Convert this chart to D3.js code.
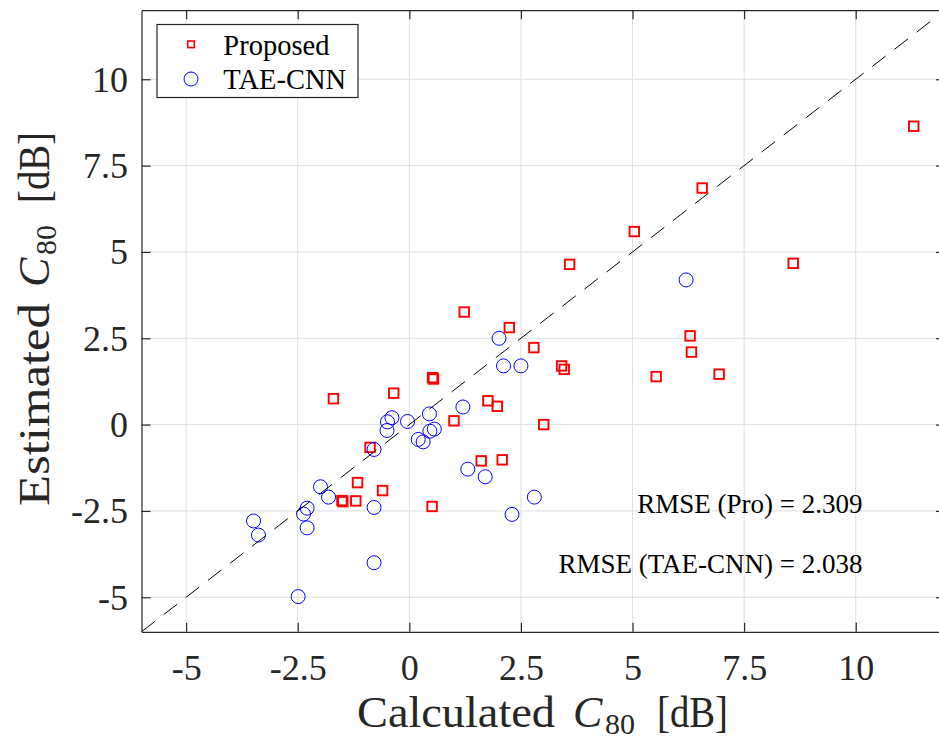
<!DOCTYPE html>
<html>
<head>
<meta charset="utf-8">
<script src="https://cdn.jsdelivr.net/npm/d3@7"></script>
<style>
  html, body { margin: 0; padding: 0; background: #fff; }
  svg { display: block; font-family: "Liberation Serif", "Times New Roman", serif; }
</style>
</head>
<body>
<svg id="chart" width="939" height="740"></svg>
<script>
// ---- data ----
const proposedX = [11.30, 6.56, 5.04, 3.59, 8.60, 1.23, 2.24, 6.29, 6.32, 2.79, 3.41, 3.47, 5.53, 6.94,
  0.52, 0.54, -0.35, -1.70, 1.76, 1.97, 1.00, 3.01, -0.88, 1.61, 2.08, -1.16, -0.60, -1.51, -1.49, -1.20, 0.51];
const proposedY = [8.64, 6.85, 5.59, 4.64, 4.67, 3.26, 2.81, 2.57, 2.10, 2.23, 1.70, 1.60, 1.39, 1.46,
  1.36, 1.32, 0.91, 0.75, 0.69, 0.53, 0.11, 0.00, -0.66, -1.05, -1.02, -1.68, -1.91, -2.20, -2.23, -2.21, -2.37];

const taeX = [6.20, 2.01, 2.11, 2.50, 1.20, 0.45, -0.39, -0.49, -0.50, -0.04, 0.56, 0.46, 0.20, 0.31,
  -0.79, 1.31, 1.70, 2.80, 2.30, -1.99, -1.81, -2.29, -2.37, -2.29, -0.79, -3.49, -3.38, -0.79, -2.49];
const taeY = [4.19, 2.50, 1.70, 1.70, 0.51, 0.31, 0.20, 0.08, -0.17, 0.09, -0.13, -0.19, -0.43, -0.50,
  -0.72, -1.29, -1.51, -2.10, -2.60, -1.80, -2.10, -2.42, -2.59, -2.99, -2.40, -2.79, -3.20, -4.00, -4.98];

const tickValues = [-5, -2.5, 0, 2.5, 5, 7.5, 10];
const tickLabels = ["-5", "-2.5", "0", "2.5", "5", "7.5", "10"];
const seriesNames = ["Proposed", "TAE-CNN"];
const rmseLabels = ["RMSE (Pro) = 2.309", "RMSE (TAE-CNN) = 2.038"];
const xDomain = [-6, 12];
const yDomain = [-6, 12];

// ---- layout ----
const svg = d3.select("#chart");
const L = 141.5, R = 945, T = 10.2, B = 631.8;
const axisColor = "#262626";

const x = d3.scaleLinear().domain(xDomain).range([L, R]);
const y = d3.scaleLinear().domain(yDomain).range([B, T]);

// clip
svg.append("defs").append("clipPath").attr("id", "clip")
  .append("rect").attr("x", L).attr("y", T).attr("width", R - L).attr("height", B - T);

// grid
const grid = svg.append("g").attr("stroke", "#dfdfdf").attr("stroke-width", 1);
tickValues.forEach(v => {
  grid.append("line").attr("x1", x(v)).attr("x2", x(v)).attr("y1", T).attr("y2", B);
  grid.append("line").attr("y1", y(v)).attr("y2", y(v)).attr("x1", L).attr("x2", R);
});

const fmt = (d) => tickLabels[tickValues.indexOf(d)];

// axes
const gx = svg.append("g").attr("transform", `translate(0,${B})`)
  .call(d3.axisBottom(x).tickValues(tickValues).tickFormat(fmt).tickSizeInner(-9).tickSizeOuter(0));
gx.selectAll("text").attr("y", 48.3).attr("dy", null).attr("font-size", 36);
const gxt = svg.append("g").attr("transform", `translate(0,${T})`)
  .call(d3.axisTop(x).tickValues(tickValues).tickFormat("").tickSizeInner(-9).tickSizeOuter(0));
const gy = svg.append("g").attr("transform", `translate(${L},0)`)
  .call(d3.axisLeft(y).tickValues(tickValues).tickFormat(fmt).tickSizeInner(-9).tickSizeOuter(0));
gy.selectAll("text").attr("x", -13.5).attr("dy", "0.33em").attr("font-size", 36);
const gyr = svg.append("g").attr("transform", `translate(${R},0)`)
  .call(d3.axisRight(y).tickValues(tickValues).tickFormat("").tickSizeInner(-9).tickSizeOuter(0));

[gx, gxt, gy, gyr].forEach(g => {
  g.attr("font-family", null);
  g.select(".domain").attr("stroke", axisColor).attr("stroke-width", 1.2);
  g.selectAll(".tick line").attr("stroke", axisColor).attr("stroke-width", 1.2);
  g.selectAll(".tick text").attr("fill", axisColor);
});

// data marks
const plot = svg.append("g").attr("clip-path", "url(#clip)");
const sq = 9.5;
plot.append("g").selectAll("rect").data(proposedX.map((v, i) => [v, proposedY[i]])).join("rect")
  .attr("x", d => x(d[0]) - sq / 2).attr("y", d => y(d[1]) - sq / 2)
  .attr("width", sq).attr("height", sq)
  .attr("fill", "none").attr("stroke", "#ff0000").attr("stroke-width", 1.9);

plot.append("g").selectAll("circle").data(taeX.map((v, i) => [v, taeY[i]])).join("circle")
  .attr("cx", d => x(d[0])).attr("cy", d => y(d[1])).attr("r", 7)
  .attr("fill", "none").attr("stroke", "#0000ff").attr("stroke-width", 1);

// y = x reference line
plot.append("line")
  .attr("x1", x(xDomain[0])).attr("y1", y(yDomain[0]))
  .attr("x2", x(xDomain[1])).attr("y2", y(yDomain[1]))
  .attr("stroke", "#000").attr("stroke-width", 1).attr("stroke-dasharray", "17,11");

// RMSE annotations
svg.append("text").attr("x", 862.5).attr("y", 513.3).attr("text-anchor", "end")
  .attr("font-size", 27).attr("fill", "#000").text(rmseLabels[0]);
svg.append("text").attr("x", 862.5).attr("y", 572.7).attr("text-anchor", "end")
  .attr("font-size", 27).attr("fill", "#000").text(rmseLabels[1]);

// legend
const lg = svg.append("g");
lg.append("rect").attr("x", 157).attr("y", 24.5).attr("width", 201).attr("height", 73)
  .attr("fill", "#fff").attr("stroke", axisColor).attr("stroke-width", 1.2);
lg.append("rect").attr("x", 191 - 3.3).attr("y", 44.3 - 3.3).attr("width", 6.6).attr("height", 6.6)
  .attr("fill", "none").attr("stroke", "#ff0000").attr("stroke-width", 1.6);
lg.append("circle").attr("cx", 191).attr("cy", 79).attr("r", 7)
  .attr("fill", "none").attr("stroke", "#0000ff").attr("stroke-width", 1);
lg.append("text").attr("x", 223.3).attr("y", 55).attr("font-size", 28.5).attr("fill", "#000").text(seriesNames[0]);
lg.append("text").attr("x", 223.3).attr("y", 88.5).attr("font-size", 28.5).attr("fill", "#000").text(seriesNames[1]);

// axis labels (LaTeX-like: word, italic C, subscript 80, [dB])
function mathLabel(g, word, p) {
  // p: positions along the baseline of each part
  const t = g.append("text").attr("font-size", 44).attr("fill", axisColor);
  t.append("tspan").attr("x", p[0]).attr("y", 0).attr("textLength", p[1]).attr("lengthAdjust", "spacingAndGlyphs").text(word);
  t.append("tspan").attr("x", p[2]).attr("y", 0).attr("font-style", "italic").text("C");
  t.append("tspan").attr("x", p[3]).attr("y", 7).attr("font-size", 30).attr("textLength", 30).attr("lengthAdjust", "spacingAndGlyphs").text("80");
  t.append("tspan").attr("x", p[4]).attr("y", 0).attr("textLength", p[5]).attr("lengthAdjust", "spacingAndGlyphs").text("[dB]");
}
const xlg = svg.append("g").attr("transform", "translate(357,726.7)");
mathLabel(xlg, "Calculated", [0, 198, 216, 248, 300, 71]);

const ylg = svg.append("g").attr("transform", "translate(49,506) rotate(-90)");
mathLabel(ylg, "Estimated", [0, 203, 219, 251, 303, 71]);
</script>
</body>
</html>
